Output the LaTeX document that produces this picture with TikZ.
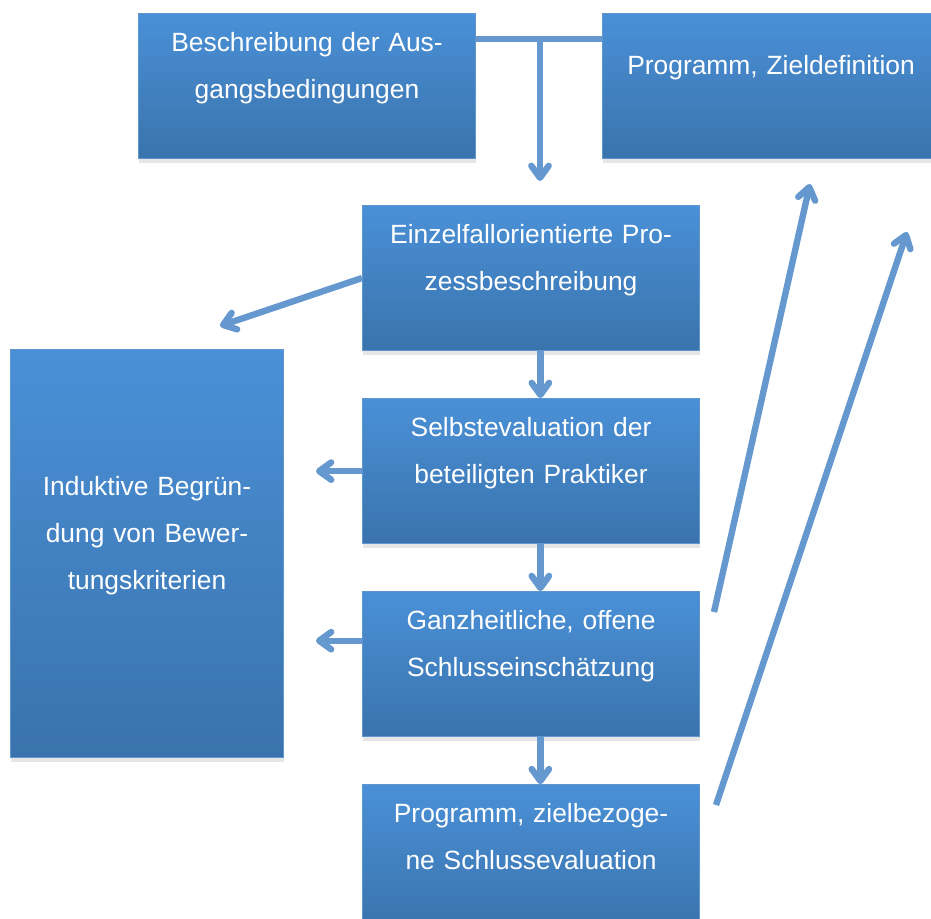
\documentclass[tikz,border=0pt]{standalone}
\usepackage{fontspec}
\setmainfont{Liberation Sans}
\usepackage{tikz}
\usetikzlibrary{arrows.meta, positioning, shadows}
\definecolor{boxtop}{RGB}{74, 144, 215}
\definecolor{boxbottom}{RGB}{58, 115, 172}
\definecolor{boxline}{RGB}{96, 150, 208}
\definecolor{arrowblue}{RGB}{100, 152, 207}
\tikzset{
  stufe/.style={rectangle, top color=boxtop, bottom color=boxbottom, draw=boxline, line width=0.8pt,
    text=white, font=\fontsize{19.8}{35.25}\selectfont, align=center, inner sep=0pt,
    minimum width=252.75pt, text width=252.75pt, minimum height=108.75pt,
    text height=28.5pt, text depth=80.25pt,
    drop shadow={shadow xshift=0pt, shadow yshift=-3pt, opacity=0.2}},
  pfeil/.style={-{Straight Barb[length=9pt, width=13pt, round]}, line width=4.8pt, arrowblue},
  linie/.style={line width=4.8pt, arrowblue}
}
\begin{document}
\begin{tikzpicture}[x=0.75pt, y=-0.75pt]
    \useasboundingbox (0,0) rectangle (931,919);
    \node (ausgang) [stufe, anchor=north west] at (138,13) {Beschreibung der Aus-\\gangsbedingungen};
    \node (ziel) [stufe, anchor=north west, text height=45.75pt, text depth=63pt] at (602,13) {Programm, Zieldefinition};
    \node (prozess) [stufe, anchor=north west] at (362,205) {Einzelfallorientierte Pro-\\zessbeschreibung};
    \node (selbst) [stufe, below=35.25pt of prozess] {Selbstevaluation der\\beteiligten Praktiker};
    \node (schluss) [stufe, below=35.25pt of selbst] {Ganzheitliche, offene\\Schlusseinschätzung};
    \node (zielbezug) [stufe, below=35.25pt of schluss] {Programm, zielbezoge-\\ne Schlussevaluation};
    \node (kriterien) [stufe, anchor=north west, minimum width=204.75pt, text width=204.75pt,
      text height=109.5pt, text depth=196.5pt] at (10,349) {Induktive Begrün-\\dung von Bewer-\\tungskriterien};

    \coordinate (abzweig) at (540,39);
    \coordinate (abende) at (540,181);
    \coordinate (spitzeP) at (220,326);
    \coordinate (startG) at (714,612);
    \coordinate (endeG) at (810,184);
    \coordinate (startZ) at (716,805);
    \coordinate (endeZ) at (907,232);

    \draw[linie] ([yshift=-19.5pt]ausgang.north east) -- ([yshift=-19.5pt]ziel.north west);
    \draw[pfeil] (abzweig) -- (abende);
    \draw[pfeil] ([xshift=7pt]prozess.south) -- ([xshift=7pt]selbst.north);
    \draw[pfeil] ([xshift=7pt]selbst.south) -- ([xshift=7pt]schluss.north);
    \draw[pfeil] ([xshift=7pt]schluss.south) -- ([xshift=7pt]zielbezug.north);
    \draw[pfeil] (prozess.west) -- (spitzeP);
    \draw[pfeil] (selbst.west) -- ([xshift=-34.5pt]selbst.west);
    \draw[pfeil] ([yshift=17.6pt]schluss.west) -- ([xshift=-34.5pt, yshift=17.6pt]schluss.west);
    \draw[pfeil] (startG) -- (endeG);
    \draw[pfeil] (startZ) -- (endeZ);
\end{tikzpicture}
\end{document}
